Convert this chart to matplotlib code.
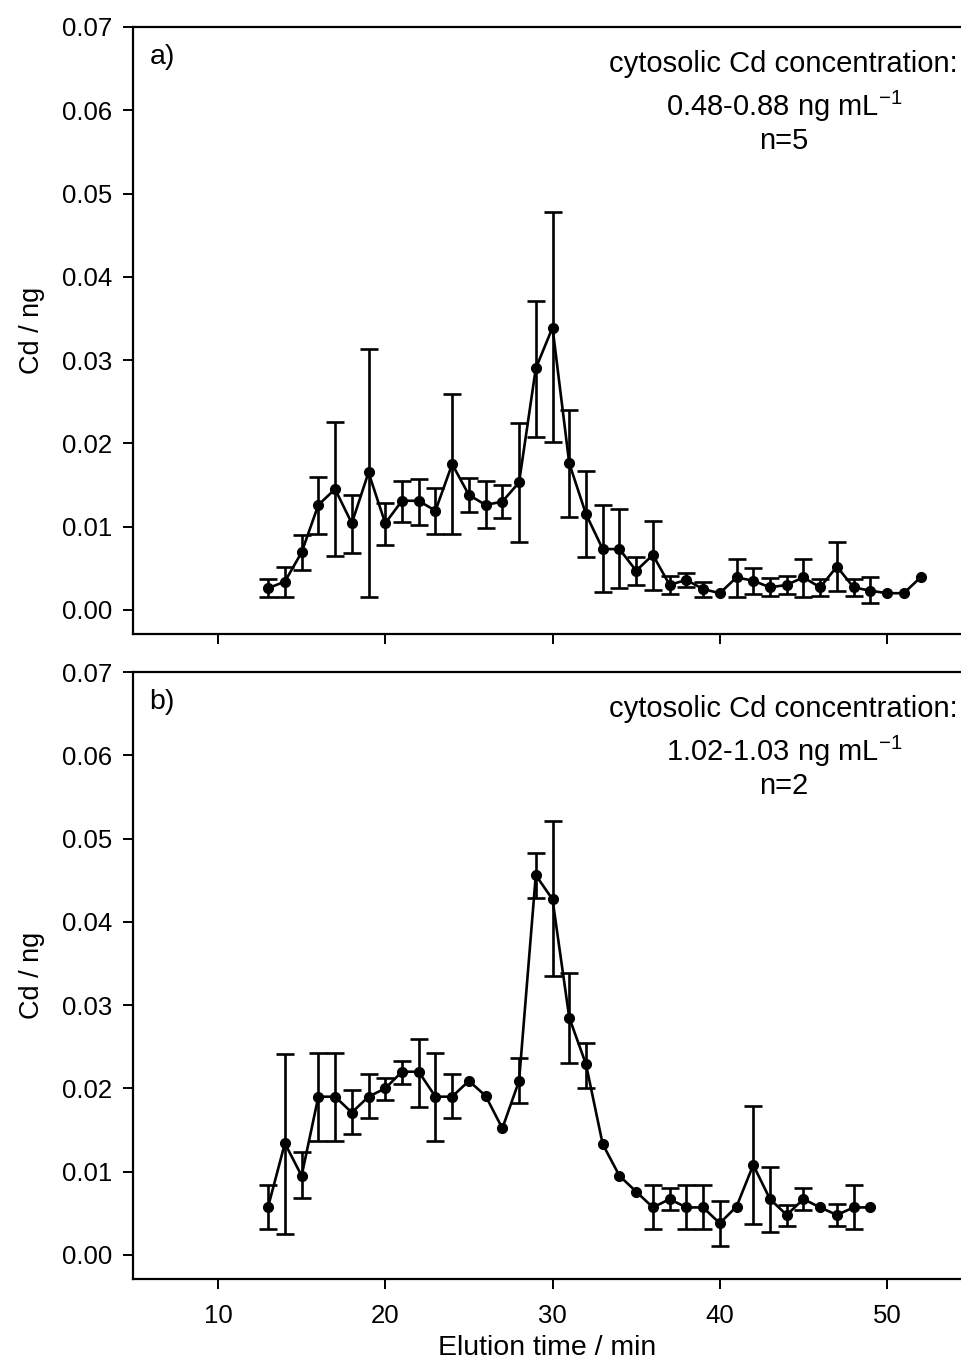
import matplotlib
matplotlib.use("Agg")
import matplotlib.pyplot as plt

plt.rcParams['font.family'] = ['Liberation Sans', 'DejaVu Sans']
plt.rcParams['mathtext.fontset'] = 'custom'
plt.rcParams['mathtext.rm'] = 'Liberation Sans'

# panel a) n=5
ta = list(range(13, 53))
ya = [0.0026, 0.0034, 0.0069, 0.0126, 0.0145, 0.0104, 0.0165, 0.0104, 0.0131, 0.0131,
      0.0119, 0.0175, 0.0138, 0.0126, 0.0130, 0.0153, 0.0290, 0.0339, 0.0176, 0.0115,
      0.0073, 0.0073, 0.0047, 0.0066, 0.0030, 0.0036, 0.0025, 0.0020, 0.0039, 0.0035,
      0.0027, 0.0030, 0.0039, 0.0027, 0.0052, 0.0027, 0.0023, 0.0020, 0.0020, 0.0039]
ya_hi = [0.0037, 0.0052, 0.0090, 0.0160, 0.0226, 0.0138, 0.0313, 0.0128, 0.0155, 0.0157,
         0.0146, 0.0259, 0.0158, 0.0155, 0.0150, 0.0225, 0.0371, 0.0478, 0.0240, 0.0167,
         0.0126, 0.0121, 0.0063, 0.0107, 0.0041, 0.0044, 0.0034, None, 0.0061, 0.0050,
         0.0038, 0.0041, 0.0061, 0.0037, 0.0081, 0.0037, 0.0039, None, None, None]
ya_lo = [0.0015, 0.0016, 0.0048, 0.0091, 0.0065, 0.0068, 0.0015, 0.0078, 0.0105, 0.0102,
         0.0091, 0.0091, 0.0117, 0.0098, 0.0110, 0.0081, 0.0207, 0.0201, 0.0111, 0.0063,
         0.0021, 0.0026, 0.0030, 0.0024, 0.0019, 0.0028, 0.0015, None, 0.0016, 0.0019,
         0.0017, 0.0019, 0.0016, 0.0017, 0.0023, 0.0017, 0.0008, None, None, None]

# panel b) n=2
tb = list(range(13, 50))
yb = [0.0058, 0.0134, 0.0095, 0.0190, 0.0190, 0.0171, 0.0190, 0.0200, 0.0220, 0.0220,
      0.0190, 0.0190, 0.0209, 0.0191, 0.0152, 0.0209, 0.0456, 0.0427, 0.0285, 0.0229,
      0.0133, 0.0095, 0.0076, 0.0057, 0.0067, 0.0057, 0.0057, 0.0038, 0.0058, 0.0108,
      0.0067, 0.0048, 0.0067, 0.0057, 0.0048, 0.0057, 0.0057]
yb_hi = [0.0084, 0.0241, 0.0123, 0.0243, 0.0243, 0.0198, 0.0217, 0.0213, 0.0233, 0.0259,
         0.0243, 0.0217, None, None, None, 0.0236, 0.0483, 0.0521, 0.0338, 0.0254,
         None, None, None, 0.0084, 0.0080, 0.0084, 0.0084, 0.0065, None, 0.0179,
         0.0106, 0.0060, 0.0080, None, 0.0061, 0.0084, None]
yb_lo = [0.0031, 0.0025, 0.0068, 0.0137, 0.0137, 0.0145, 0.0164, 0.0186, 0.0205, 0.0178,
         0.0137, 0.0164, None, None, None, 0.0182, 0.0429, 0.0335, 0.0231, 0.0201,
         None, None, None, 0.0031, 0.0054, 0.0031, 0.0031, 0.0011, None, 0.0037,
         0.0027, 0.0035, 0.0054, None, 0.0035, 0.0031, None]

labels = ['a)', 'b)']
notes = [['cytosolic Cd concentration:', '0.48-0.88 ng mL$^{-1}$', 'n=5'],
         ['cytosolic Cd concentration:', '1.02-1.03 ng mL$^{-1}$', 'n=2']]

fig = plt.figure(figsize=(9.61, 13.62), dpi=100)
ax1 = fig.add_axes([0.1384, 0.5345, 0.8616, 0.4457])
ax2 = fig.add_axes([0.1384, 0.0609, 0.8616, 0.4457])


def draw(ax, t, y, hi, lo, lab, note):
    ex, ey, el, eh = [], [], [], []
    for xi, yi, h, l in zip(t, y, hi, lo):
        if h is None:
            continue
        ex.append(xi)
        ey.append(yi)
        el.append(yi - l)
        eh.append(h - yi)
    ax.errorbar(ex, ey, yerr=[el, eh], fmt='none', ecolor='black', elinewidth=1.9,
                capsize=6.5, capthick=1.9, zorder=2)
    ax.plot(t, y, color='black', lw=1.9, marker='o', markersize=7, zorder=3)
    ax.set_xlim(4.92, 54.42)
    ax.set_ylim(-0.0029, 0.07)
    ax.set_yticks([0.0, 0.01, 0.02, 0.03, 0.04, 0.05, 0.06, 0.07])
    ax.set_yticklabels(['%.2f' % v for v in ax.get_yticks()])
    ax.set_xticks([10, 20, 30, 40, 50])
    ax.spines['right'].set_visible(False)
    for s in ['left', 'bottom', 'top']:
        ax.spines[s].set_linewidth(1.6)
    ax.tick_params(direction='out', length=7, width=1.4, labelsize=18.5, pad=8)
    ax.tick_params(axis='x', pad=11)
    ax.set_ylabel('Cd / ng', fontsize=19.5, labelpad=12)
    ax.text(0.02, 0.95, lab, transform=ax.transAxes, fontsize=20.5, va='center', ha='left')
    ax.text(0.786, 0.939, note[0], transform=ax.transAxes, fontsize=21, va='center', ha='center')
    ax.text(0.786, 0.869, note[1], transform=ax.transAxes, fontsize=21, va='center', ha='center')
    ax.text(0.786, 0.812, note[2], transform=ax.transAxes, fontsize=21, va='center', ha='center')


draw(ax1, ta, ya, ya_hi, ya_lo, labels[0], notes[0])
draw(ax2, tb, yb, yb_hi, yb_lo, labels[1], notes[1])
ax1.tick_params(labelbottom=False)
ax2.set_xlabel('Elution time / min', fontsize=20.5, labelpad=5)

fig.savefig('out.png', dpi=100)
